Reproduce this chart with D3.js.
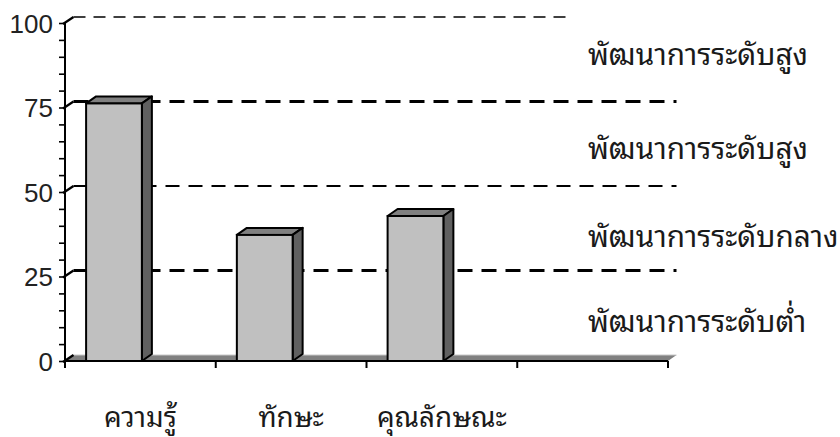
<!DOCTYPE html>
<html><head><meta charset="utf-8">
<script src="https://cdn.jsdelivr.net/npm/d3@7"></script>
<style>html,body{margin:0;padding:0;background:#fff;}</style>
</head><body>
<svg id="c" width="840" height="437"></svg>
<script>
const categories = ["ความรู้", "ทักษะ", "คุณลักษณะ"];
const slots = ["ความรู้", "ทักษะ", "คุณลักษณะ", "_empty"];
const values = [76.2, 37.3, 42.9];
const yTicks = [0, 25, 50, 75, 100];
const gridLevels = [100, 75, 50, 25];
const levelLabels = ["พัฒนาการระดับสูง", "พัฒนาการระดับสูง", "พัฒนาการระดับกลาง", "พัฒนาการระดับต่ำ"];
const levelLabelValues = [88.2, 60.4, 34.3, 9.2];

const svg = d3.select("#c");
const thaiFont = "'Noto Sans Thai Looped','Noto Sans Thai','Loma','Garuda','Noto Sans',sans-serif";

const x = d3.scaleBand().domain(slots).range([65, 668]).paddingInner(0).paddingOuter(0);
const y = d3.scaleLinear().domain([0, 100]).range([361, 23]);
const wdx = 8.5, wdy = -6;   // back wall offset
const bdx = 10, bdy = -7;    // bar depth

// floor
const x0 = x.range()[0], x1 = x.range()[1];
svg.append("polygon")
  .attr("points", [[x0, y(0)], [x1, y(0)], [x1 + wdx, y(0) + wdy], [x0 + wdx, y(0) + wdy]].map(p => p.join(",")).join(" "))
  .attr("fill", "#808080");
svg.append("line").attr("x1", x0 + wdx).attr("x2", x1 + wdx)
  .attr("y1", y(0) + wdy).attr("y2", y(0) + wdy)
  .attr("stroke", "#c8c8c8").attr("stroke-width", 1);

// gridlines on back wall
const gridStyle = {100: {w: 1.4, d: "12,8", end: 568}, 75: {w: 3, d: "15,9", end: x1 + wdx}, 50: {w: 2, d: "14,9", end: x1 + wdx}, 25: {w: 3, d: "15,9", end: x1 + wdx}};
svg.append("g").selectAll("line").data(gridLevels).join("line")
  .attr("x1", x0 + wdx).attr("x2", d => gridStyle[d].end)
  .attr("y1", d => y(d) + wdy).attr("y2", d => y(d) + wdy)
  .attr("stroke", "#000").attr("stroke-width", d => gridStyle[d].w)
  .attr("stroke-dasharray", d => gridStyle[d].d);

// y axis (front)
const yAxis = d3.axisLeft(y).tickValues(d3.range(0, 101, 5)).tickSize(6)
  .tickFormat(d => yTicks.includes(d) ? d : "");
const gy = svg.append("g").attr("transform", "translate(65,0)").call(yAxis);
gy.attr("font-size", null).attr("font-family", null);
gy.select(".domain").attr("d", `M0,${y(100)}V${y(0) + 5}`).attr("stroke", "#000").attr("stroke-width", 2);
gy.selectAll(".tick line").attr("stroke", "#000").attr("stroke-width", 1.6);
gy.selectAll(".tick text")
  .style("font-family", "'Liberation Sans',Arial,sans-serif")
  .style("font-size", "26px").style("font-weight", "normal")
  .attr("fill", "#222").attr("x", -12).attr("dy", "0.36em");
// slanted major ticks connecting to back wall
svg.append("g").selectAll("line").data(yTicks).join("line")
  .attr("x1", 63).attr("y1", d => y(d) + 1)
  .attr("x2", 65 + wdx).attr("y2", d => y(d) + wdy)
  .attr("stroke", "#000").attr("stroke-width", 2.2);

// bars
const bw = x.bandwidth();
const bars = svg.append("g").selectAll("g").data(categories.map((c, i) => ({c, v: values[i]}))).join("g");
const bx = d => x(d.c) + bw * 0.14;
const bwid = bw * 0.37;
bars.append("polygon")
  .attr("points", d => {
    const l = bx(d), r = l + bwid, t = y(d.v);
    return [[l, t], [r, t], [r + bdx, t + bdy], [l + bdx, t + bdy]].map(p => p.join(",")).join(" ");
  })
  .attr("fill", "#808080").attr("stroke", "#000").attr("stroke-width", 2).attr("stroke-linejoin", "round");
bars.append("polygon")
  .attr("points", d => {
    const r = bx(d) + bwid, t = y(d.v), b = y(0);
    return [[r, t], [r + bdx, t + bdy], [r + bdx, b + bdy], [r, b]].map(p => p.join(",")).join(" ");
  })
  .attr("fill", "#606060").attr("stroke", "#000").attr("stroke-width", 2).attr("stroke-linejoin", "round");
bars.append("rect")
  .attr("x", bx).attr("y", d => y(d.v)).attr("width", bwid).attr("height", d => y(0) - y(d.v))
  .attr("fill", "#c0c0c0").attr("stroke", "#000").attr("stroke-width", 2);

// x axis (front)
const xAxis = d3.axisBottom(x).tickSize(0).tickFormat(d => d === "_empty" ? "" : d);
const gx = svg.append("g").attr("transform", `translate(0,${y(0)})`).call(xAxis);
gx.attr("font-size", null).attr("font-family", null);
gx.select(".domain").attr("d", `M${x0},0H${x1}`).attr("stroke", "#000").attr("stroke-width", 2.2);
gx.selectAll(".tick line").remove();
gx.selectAll(".tick text").attr("font-family", thaiFont).attr("font-size", 22).attr("fill", "#1a1a1a")
  .attr("font-weight", "normal").attr("y", 66).attr("dy", 0);
// category boundary ticks
svg.append("g").selectAll("line").data(slots.map(s => x(s)).concat([x1])).join("line")
  .attr("x1", d => d).attr("x2", d => d).attr("y1", y(0)).attr("y2", y(0) + 7)
  .attr("stroke", "#000").attr("stroke-width", 2);

// level labels on the right
const lab = svg.append("g").selectAll("text").data(levelLabels).join("text")
  .attr("x", 588).attr("y", (d, i) => y(levelLabelValues[i]) + 2)
  .attr("font-family", thaiFont).attr("font-size", 24).attr("fill", "#1a1a1a")
  .attr("font-weight", "normal")
  .text(d => d);

// fit font sizes to measured widths
const fit = (sel, target) => {
  const w = sel.node().getComputedTextLength();
  const fs = +sel.attr("font-size");
  return fs * target / w;
};
const fsLab = fit(lab.filter((d, i) => i === 0), 220);
lab.attr("font-size", fsLab);
const t0 = gx.selectAll(".tick text").filter((d, i) => i === 0);
const fsCat = fit(t0, 73);
gx.selectAll(".tick text").attr("font-size", fsCat);
</script>
</body></html>
